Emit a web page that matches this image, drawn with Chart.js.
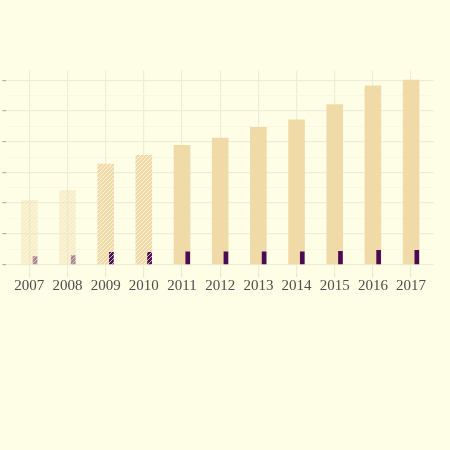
<!DOCTYPE html>
<html>
<head>
<meta charset="utf-8">
<script src="https://cdn.jsdelivr.net/npm/chart.js@4.4.1/dist/chart.umd.min.js"></script>
<style>
  html, body { margin: 0; padding: 0; background: #fefee6; }
  #wrap { width: 450px; height: 450px; }
</style>
</head>
<body>
<div id="wrap"><canvas id="chart"></canvas></div>
<script>
// ─── Data ────────────────────────────────────────────────
const years = ['2007', '2008', '2009', '2010', '2011', '2012', '2013', '2014', '2015', '2016', '2017'];
const totalValues = [20.9, 24.2, 32.7, 35.6, 38.8, 41.2, 44.7, 47.1, 52.1, 58.2, 60.1];
const smallValues = [2.6, 2.9, 4.0, 4.0, 4.1, 4.1, 4.1, 4.1, 4.3, 4.6, 4.6];
const yTicks = [0, 5, 10, 15, 20, 25, 30, 35, 40, 45, 50, 55, 60];

// ─── Styles ──────────────────────────────────────────────
const WHEAT = '240,219,168';
const PURPLE = '75,10,85';
const DODGE = 0.15;

function hatch(rgb, alpha) {
    const c = document.createElement('canvas');
    c.width = 4; c.height = 4;
    const g = c.getContext('2d');
    g.fillStyle = 'rgba(' + rgb + ',' + alpha + ')';
    g.fillRect(0, 0, 4, 4);
    g.strokeStyle = 'rgba(255,255,240,' + (0.45 * alpha + 0.25) + ')';
    g.lineWidth = 1;
    g.beginPath();
    g.moveTo(-1, 5); g.lineTo(5, -1);
    g.moveTo(-1, 1); g.lineTo(1, -1);
    g.moveTo(3, 5); g.lineTo(5, 3);
    g.stroke();
    return g.createPattern(c, 'repeat');
}

function fills(rgb) {
    return years.map((y, i) => {
        if (i < 2) return hatch(rgb, 0.45);
        if (i < 4) return hatch(rgb, 1);
        return 'rgb(' + rgb + ')';
    });
}

const isMajor = c => c.tick && c.tick.value % 10 === 0;

const ctx = document.getElementById('chart');
new Chart(ctx, {
    type: 'bar',
    data: {
        datasets: [
            {
                data: totalValues.map((v, i) => ({ x: i + 1, y: v })),
                backgroundColor: fills(WHEAT),
                barThickness: 16,
                borderWidth: 0,
                order: 2
            },
            {
                data: smallValues.map((v, i) => ({ x: i + 1 + DODGE, y: v })),
                backgroundColor: fills(PURPLE),
                barThickness: 4,
                borderWidth: 0,
                order: 1
            }
        ]
    },
    options: {
        responsive: true,
        maintainAspectRatio: false,
        animation: false,
        grouped: false,
        layout: { padding: { left: 2.4, right: 16, top: 70.5, bottom: 155 } },
        plugins: { legend: { display: false }, tooltip: { enabled: false } },
        scales: {
            x: {
                type: 'linear',
                min: 0.4,
                max: 11.6,
                offset: false,
                afterBuildTicks: s => { s.ticks = years.map((y, i) => ({ value: i + 1 })); },
                afterFit: s => { s.paddingLeft = 0; s.paddingRight = 0; },
                border: { display: false },
                grid: { offset: false, color: '#efedd6', lineWidth: 1.2, tickLength: 3, tickColor: '#e6e4cc' },
                ticks: {
                    callback: v => years[v - 1],
                    font: { family: 'Liberation Serif', size: 15 },
                    color: '#4d4d4d',
                    padding: 0,
                    maxRotation: 0
                }
            },
            y: {
                min: -3.1,
                max: 63.2,
                afterBuildTicks: s => { s.ticks = yTicks.map(v => ({ value: v })); },
                border: { display: false },
                grid: {
                    color: c => isMajor(c) ? '#efedd6' : '#f6f5df',
                    lineWidth: c => isMajor(c) ? 1.2 : 0.8,
                    tickLength: 4,
                    tickColor: c => isMajor(c) ? '#b5b39f' : 'rgba(0,0,0,0)'
                },
                ticks: { display: false }
            }
        }
    }
});
</script>
</body>
</html>
